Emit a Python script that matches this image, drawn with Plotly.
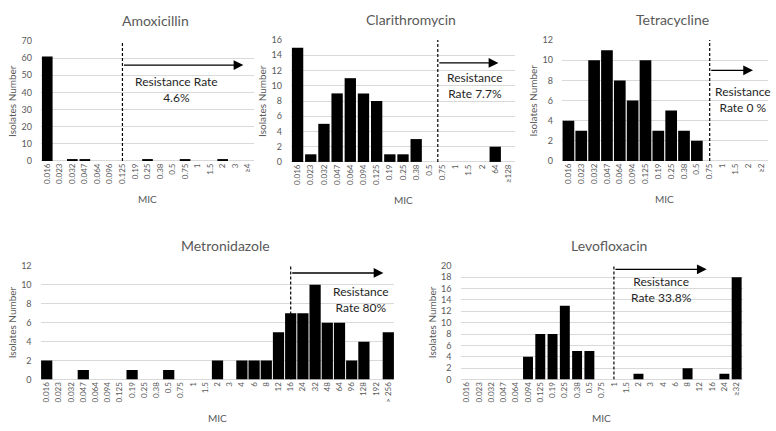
import plotly.graph_objects as go

# MIC categories and isolate counts
amx_mic = ["0.016", "0.023", "0.032", "0.047", "0.064", "0.096", "0.125", "0.19", "0.25",
           "0.38", "0.5", "0.75", "1", "1.5", "2", "3", "≥4"]
amx_n = [61, 0, 1, 1, 0, 0, 0, 0, 1, 0, 0, 1, 0, 0, 1, 0, 0]

cla_mic = ["0.016", "0.023", "0.032", "0.047", "0.064", "0.094", "0.125", "0.19", "0.25",
           "0.38", "0.5", "0.75", "1", "1.5", "2", "64", "≥128"]
cla_n = [15, 1, 5, 9, 11, 9, 8, 1, 1, 3, 0, 0, 0, 0, 0, 2, 0]

tet_mic = ["0.016", "0.023", "0.032", "0.047", "0.064", "0.094", "0.125", "0.19", "0.25",
           "0.38", "0.5", "0.75", "1", "1.5", "2", "≥2"]
tet_n = [4, 3, 10, 11, 8, 6, 10, 3, 5, 3, 2, 0, 0, 0, 0, 0]

met_mic = ["0.016", "0.023", "0.032", "0.047", "0.064", "0.094", "0.125", "0.19", "0.25",
           "0.38", "0.5", "0.75", "1", "1.5", "2", "3", "4", "6", "8", "12", "16", "24",
           "32", "48", "64", "96", "128", "192", "> 256"]
met_n = [2, 0, 0, 1, 0, 0, 0, 1, 0, 0, 1, 0, 0, 0, 2, 0, 2, 2, 2, 5, 7, 7, 10, 6, 6, 2, 4, 0, 5]

lev_mic = ["0.016", "0.023", "0.032", "0.047", "0.064", "0.094", "0.125", "0.19", "0.25",
           "0.38", "0.5", "0.75", "1", "1.5", "2", "3", "4", "6", "8", "12", "16", "24", "≥32"]
lev_n = [0, 0, 0, 0, 0, 4, 8, 8, 13, 5, 5, 0, 0, 0, 1, 0, 0, 0, 2, 0, 0, 1, 18]

W, H = 776, 431
FONT = "Lato"
GREY = "#595959"

# name, mic, counts, ymax, ytick step, bar width, breakpoint index, arrow end, arrow y,
# label, label x, label y, plot box in pixels (left, right, top, bottom)
panels = [
    ("Amoxicillin", amx_mic, amx_n, 70, 10, 0.85, 6, 15.65, 56,
     "Resistance Rate<br>4.6%", 10.3, 42, (41, 254, 36, 159)),
    ("Clarithromycin", cla_mic, cla_n, 16, 2, 0.86, 10.64, 15.24, 13,
     "Resistance<br>Rate 7.7%", 13.5, 10.1, (291, 515, 35, 160)),
    ("Tetracycline", tet_mic, tet_n, 12, 2, 0.91, 11, 14.37, 9,
     "Resistance<br>Rate 0 %", 13.6, 6.15, (562, 767.5, 35, 159)),
    ("Metronidazole", met_mic, met_n, 12, 2, 0.92, 20, 27.6, 11.25,
     "Resistance<br>Rate 80%", 25.8, 8.4, (40.6, 394.4, 266.7, 383.3)),
    ("Levofloxacin", lev_mic, lev_n, 20, 2, 0.81, 12, 19.56, 19.4,
     "Resistance<br>Rate 33.8%", 15.85, 15.9, (460.5, 742.8, 266.7, 383.3)),
]

fig = go.Figure()
layout = {}
annotations = []
shapes = []

for i, (name, mic, n, ymax, step, bw, cut, a_end, a_y, label, lx, ly, box) in enumerate(panels):
    k = "" if i == 0 else str(i + 1)
    xa, ya = "x" + k, "y" + k
    left, right, top, bottom = box
    fig.add_bar(x=mic, y=n, xaxis=xa, yaxis=ya, width=bw,
                marker=dict(color="black", line_width=0), showlegend=False)
    layout["xaxis" + k] = dict(
        domain=[left / W, right / W], anchor=ya, type="category",
        range=[-0.5, len(mic) - 0.5], tickangle=-90, showgrid=False,
        tickfont=dict(family=FONT, size=8, color=GREY), ticks="", showline=False)
    layout["yaxis" + k] = dict(
        domain=[1 - bottom / H, 1 - top / H], anchor=xa, range=[0, ymax],
        dtick=step, tick0=0, showgrid=True, gridcolor="#d9d9d9", gridwidth=1,
        zeroline=True, zerolinecolor="#d9d9d9", zerolinewidth=1,
        tickfont=dict(family=FONT, size=9, color=GREY), ticks="", showline=False,
        ticklabelstandoff=8)
    # breakpoint line
    shapes.append(dict(type="line", xref=xa, yref=ya, x0=cut, x1=cut, y0=0, y1=ymax,
                       line=dict(color="black", width=1.2, dash="3px,2px")))
    # arrow
    annotations.append(dict(xref=xa, yref=ya, axref=xa, ayref=ya, x=a_end, y=a_y,
                            ax=cut, ay=a_y, text="", showarrow=True, arrowhead=2,
                            arrowsize=1.5, arrowwidth=1.3, arrowcolor="black"))
    annotations.append(dict(xref=xa, yref=ya, x=lx, y=ly, text=label, showarrow=False,
                            xanchor="center", yanchor="middle",
                            font=dict(family=FONT, size=12, color="#262626"), align="center"))
    # panel title and axis titles
    cx = (left + right) / 2 / W
    annotations.append(dict(xref="paper", yref="paper", x=cx + 0.01, y=1 - (top - 21) / H,
                            xanchor="center", yanchor="middle",
                            text=name, showarrow=False, font=dict(family=FONT, size=14, color=GREY)))
    annotations.append(dict(xref="paper", yref="paper", x=cx, y=1 - (bottom + 39) / H,
                            xanchor="center", yanchor="middle",
                            text="MIC", showarrow=False, font=dict(family=FONT, size=10, color=GREY)))
    annotations.append(dict(xref="paper", yref="paper", x=(left - 29) / W, y=1 - (top + bottom) / 2 / H,
                            xanchor="center", yanchor="middle",
                            text="Isolates Number", textangle=-90, showarrow=False,
                            font=dict(family=FONT, size=10, color=GREY)))

fig.update_layout(
    width=W, height=H, margin=dict(l=0, r=0, t=0, b=0),
    paper_bgcolor="white", plot_bgcolor="white",
    annotations=annotations, shapes=shapes, **layout)

fig.write_html("out.html", config={"displayModeBar": False},
               post_script="document.body.style.margin='0px';")
